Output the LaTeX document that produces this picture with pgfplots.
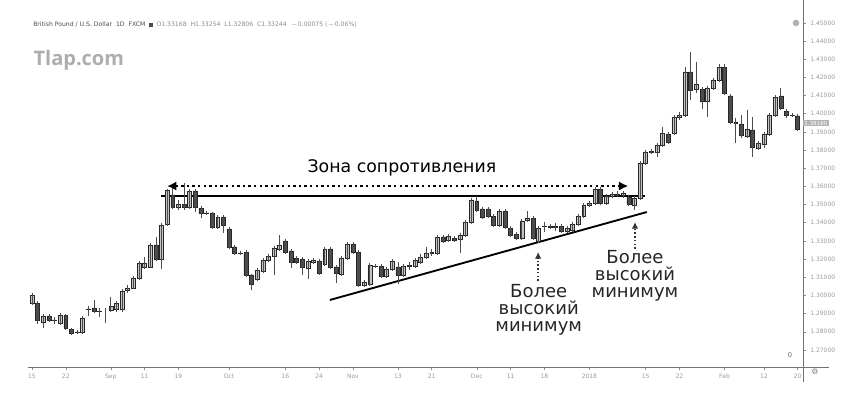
\documentclass[border=0pt]{standalone}
\usepackage{pgfplots}
\pgfplotsset{compat=1.18}
\usepackage{pgfplotstable}
\usepackage{fontspec}
\setmainfont{DejaVu Sans}
\newfontfamily\annot{DejaVu Sans}
\newfontfamily\wm{Open Sans}
\usetikzlibrary{arrows.meta}
\definecolor{upc}{HTML}{C4C4C4}
\definecolor{dnc}{HTML}{4D4D4D}
\definecolor{lbl}{HTML}{9A9A9A}

\pgfplotstableread{
i o h l c
0 1.2958 1.3014 1.2947 1.3003
1 1.2958 1.2969 1.2843 1.2865
2 1.2854 1.2898 1.2821 1.2887
3 1.2887 1.2898 1.2854 1.2865
4 1.2866 1.2881 1.2843 1.2864
5 1.2848 1.2903 1.2837 1.2892
6 1.2892 1.2898 1.2810 1.2821
7 1.2815 1.2821 1.2782 1.2793
8 1.2799 1.2810 1.2788 1.2798
9 1.2799 1.2887 1.2788 1.2876
10 1.2926 1.2942 1.2887 1.2925
11 1.2931 1.2975 1.2903 1.2914
12 1.2914 1.2931 1.2881 1.2915
13 1.2920 1.2931 1.2848 1.2920
14 1.2920 1.2992 1.2909 1.2942
15 1.2926 1.2969 1.2909 1.2958
16 1.2926 1.3036 1.2909 1.3025
17 1.3030 1.3057 1.3014 1.3041
18 1.3041 1.3107 1.3036 1.3096
19 1.3096 1.3190 1.3085 1.3179
20 1.3157 1.3212 1.3146 1.3179
21 1.3157 1.3289 1.3151 1.3278
22 1.3278 1.3322 1.3190 1.3201
23 1.3201 1.3399 1.3146 1.3388
24 1.3393 1.3586 1.3382 1.3580
25 1.3553 1.3591 1.3476 1.3487
26 1.3487 1.3525 1.3470 1.3503
27 1.3503 1.3619 1.3470 1.3487
28 1.3487 1.3586 1.3476 1.3575
29 1.3575 1.3586 1.3459 1.3487
30 1.3481 1.3492 1.3426 1.3454
31 1.3454 1.3465 1.3443 1.3453
32 1.3454 1.3459 1.3366 1.3377
33 1.3377 1.3443 1.3366 1.3432
34 1.3432 1.3443 1.3344 1.3388
35 1.3366 1.3377 1.3256 1.3267
36 1.3267 1.3278 1.3223 1.3234
37 1.3234 1.3245 1.3223 1.3233
38 1.3239 1.3250 1.3102 1.3113
39 1.3113 1.3118 1.3030 1.3063
40 1.3091 1.3151 1.3080 1.3140
41 1.3135 1.3206 1.3124 1.3195
42 1.3195 1.3228 1.3184 1.3217
43 1.3217 1.3272 1.3113 1.3261
44 1.3256 1.3333 1.3245 1.3278
45 1.3300 1.3311 1.3228 1.3239
46 1.3245 1.3256 1.3151 1.3184
47 1.3206 1.3217 1.3173 1.3184
48 1.3201 1.3212 1.3113 1.3157
49 1.3151 1.3201 1.3091 1.3190
50 1.3184 1.3206 1.3173 1.3195
51 1.3190 1.3201 1.3113 1.3124
52 1.3173 1.3267 1.3162 1.3256
53 1.3256 1.3267 1.3146 1.3157
54 1.3157 1.3168 1.3068 1.3124
55 1.3118 1.3217 1.3107 1.3206
56 1.3206 1.3294 1.3195 1.3283
57 1.3283 1.3294 1.3228 1.3239
58 1.3239 1.3250 1.3046 1.3057
59 1.3057 1.3085 1.3046 1.3074
60 1.3063 1.3179 1.3052 1.3168
61 1.3162 1.3173 1.3151 1.3163
62 1.3162 1.3173 1.3096 1.3107
63 1.3107 1.3157 1.3096 1.3146
64 1.3146 1.3201 1.3135 1.3190
65 1.3157 1.3184 1.3063 1.3113
66 1.3113 1.3173 1.3102 1.3162
67 1.3160 1.3184 1.3140 1.3165
68 1.3162 1.3206 1.3151 1.3195
69 1.3184 1.3228 1.3173 1.3212
70 1.3212 1.3267 1.3201 1.3234
71 1.3234 1.3256 1.3217 1.3239
72 1.3234 1.3333 1.3223 1.3322
73 1.3322 1.3333 1.3289 1.3300
74 1.3305 1.3338 1.3294 1.3327
75 1.3316 1.3327 1.3294 1.3305
76 1.3311 1.3344 1.3234 1.3333
77 1.3333 1.3415 1.3322 1.3404
78 1.3404 1.3536 1.3393 1.3525
79 1.3520 1.3547 1.3459 1.3470
80 1.3476 1.3487 1.3421 1.3432
81 1.3476 1.3487 1.3426 1.3437
82 1.3437 1.3448 1.3377 1.3388
83 1.3388 1.3476 1.3377 1.3465
84 1.3465 1.3476 1.3366 1.3377
85 1.3371 1.3382 1.3322 1.3333
86 1.3338 1.3349 1.3305 1.3316
87 1.3316 1.3421 1.3305 1.3410
88 1.3415 1.3465 1.3404 1.3426
89 1.3426 1.3437 1.3305 1.3316
90 1.3300 1.3382 1.3289 1.3371
91 1.3382 1.3404 1.3349 1.3383
92 1.3382 1.3393 1.3366 1.3377
93 1.3377 1.3399 1.3355 1.3378
94 1.3382 1.3393 1.3344 1.3355
95 1.3355 1.3382 1.3344 1.3371
96 1.3360 1.3404 1.3349 1.3393
97 1.3393 1.3448 1.3382 1.3437
98 1.3437 1.3509 1.3426 1.3498
99 1.3498 1.3520 1.3487 1.3509
100 1.3509 1.3597 1.3498 1.3586
101 1.3586 1.3597 1.3498 1.3509
102 1.3509 1.3558 1.3498 1.3547
103 1.3547 1.3569 1.3536 1.3558
104 1.3558 1.3575 1.3542 1.3553
105 1.3553 1.3575 1.3536 1.3564
106 1.3542 1.3553 1.3492 1.3503
107 1.3498 1.3547 1.3470 1.3536
108 1.3536 1.3740 1.3525 1.3729
109 1.3729 1.3800 1.3718 1.3789
110 1.3789 1.3806 1.3778 1.3795
111 1.3789 1.3839 1.3762 1.3828
112 1.3828 1.3927 1.3817 1.3894
113 1.3889 1.3900 1.3834 1.3845
114 1.3894 1.3993 1.3883 1.3982
115 1.3982 1.4010 1.3966 1.3993
116 1.3993 1.4257 1.3982 1.4230
117 1.4230 1.4340 1.4076 1.4131
118 1.4136 1.4285 1.4114 1.4164
119 1.4136 1.4147 1.4026 1.4070
120 1.4070 1.4153 1.3982 1.4142
121 1.4142 1.4197 1.4131 1.4186
122 1.4186 1.4274 1.4175 1.4257
123 1.4257 1.4274 1.4103 1.4114
124 1.4098 1.4109 1.3944 1.3955
125 1.3955 1.3977 1.3839 1.3949
126 1.3944 1.3993 1.3867 1.3883
127 1.3877 1.4021 1.3867 1.3916
128 1.3911 1.3982 1.3762 1.3817
129 1.3811 1.3850 1.3800 1.3839
130 1.3834 1.3900 1.3811 1.3889
131 1.3889 1.4004 1.3877 1.3993
132 1.3993 1.4103 1.3982 1.4092
133 1.4098 1.4142 1.4021 1.4032
134 1.4015 1.4026 1.3977 1.3993
135 1.3993 1.4004 1.3982 1.3992
136 1.3988 1.3999 1.3905 1.3916
}\candles

\begin{document}
\begin{tikzpicture}
\path[use as bounding box] (0,0) rectangle (633pt,304.5pt);
\node[anchor=west, inner sep=0, font=\fontsize{4.6}{5}\selectfont, text=black!70] at (24.75pt,285.75pt)
 {British Pound / U.S. Dollar\ \ 1D\ \ FXCM\ \ \rule{2.5pt}{2.5pt}\ \ \textcolor{black!45}{O1.33168\ \ H1.33254\ \ L1.32806\ \ C1.33244\ \ $-$0.00075 ($-$0.06\%)}};
\node[anchor=west, inner sep=0, font=\wm\bfseries\fontsize{15}{16}\selectfont, text=black!32] at (25pt,259.5pt) {Tlap.com};
\begin{axis}[
  scale only axis, width=581.25pt, height=275.25pt,
  anchor=south west, at={(21pt,29.25pt)},
  xmin=-0.71, xmax=136.94, ymin=1.26062, ymax=1.4626,
  axis x line*=bottom, axis y line*=right,
  axis line style={black!55, line width=0.5pt},
  ybar stacked, bar width=0.7,
  clip mode=individual,
  ytick={1.27,1.28,1.29,1.30,1.31,1.32,1.33,1.34,1.35,1.36,1.37,1.38,1.39,1.40,1.41,1.42,1.43,1.44,1.45},
  /pgf/number format/assume math mode=true,
  yticklabel style={font=\fontsize{4.5}{5}\selectfont, text=lbl, /pgf/number format/fixed, /pgf/number format/fixed zerofill, /pgf/number format/precision=5},
  xtick={0,6,14,20,26,35,45,51,57,65,71,79,85,91,99,109,115,123,130,136},
  xticklabels={15,22,Sep,11,19,Oct,16,24,Nov,13,21,Dec,11,18,2018,15,22,Feb,12,20},
  xticklabel style={font=\fontsize{4.5}{5}\selectfont, text=lbl},
  tick style={black!45, line width=0.4pt},
  major tick length=2pt, tick align=outside,
]
\addplot[draw=none, fill=none,
  error bars/.cd, y dir=both, y explicit, error mark=none,
  error bar style={draw=black!70, line width=0.5pt, solid}]
  table[x=i, y expr={min(\thisrow{o},\thisrow{c})},
        y error plus expr={\thisrow{h}-min(\thisrow{o},\thisrow{c})},
        y error minus expr={min(\thisrow{o},\thisrow{c})-\thisrow{l}}] {\candles};
\addplot[draw=black!85, fill=upc, line width=0.4pt]
  table[x=i, y expr={max(\thisrow{c}-\thisrow{o},0)}] {\candles};
\addplot[draw=black!85, fill=dnc, line width=0.4pt]
  table[x=i, y expr={max(\thisrow{o}-\thisrow{c},0)}] {\candles};

% annotations
\draw[black, line width=1.5pt] (axis cs:22.9,1.3547) -- (axis cs:108.9,1.3547);
\draw[black, line width=1.8pt, dash pattern=on 1.8pt off 2.4pt,
  {Latex[length=7pt,width=7pt]}-{Latex[length=7pt,width=7pt]}]
  (axis cs:24.0,1.3602) -- (axis cs:105.9,1.3602);
\draw[black, line width=1.4pt] (axis cs:52.9,1.2975) -- (axis cs:109.2,1.3459);
\draw[black!80, line width=1.2pt, dash pattern=on 1.2pt off 1.6pt, -{Latex[length=5pt,width=5pt]}]
  (axis cs:89.9,1.3080) -- (axis cs:89.9,1.3239);
\draw[black!80, line width=1.2pt, dash pattern=on 1.2pt off 1.6pt, -{Latex[length=5pt,width=5pt]}]
  (axis cs:107.1,1.3256) -- (axis cs:107.1,1.3404);
\node[font=\annot\fontsize{13}{13}\selectfont, inner sep=0] at (axis cs:65.7,1.3701) {Зона сопротивления};
\node[align=center, anchor=north, inner sep=0, font=\annot\fontsize{13.5}{12.75}\selectfont, text=black!85]
  at (axis cs:90,1.3063) {Более\\высокий\\минимум};
\node[align=center, anchor=north, inner sep=0, font=\annot\fontsize{13.5}{12.75}\selectfont, text=black!85]
  at (axis cs:107.1,1.3250) {Более\\высокий\\минимум};
\node[anchor=west, fill=black!30, text=white, inner sep=0.8pt, font=\fontsize{4.2}{4.5}\selectfont] at (axis cs:136.94,1.3949) {1.39160};
\end{axis}
\draw[black!55, line width=0.5pt] (602.25pt,29.25pt) -- (602.25pt,18pt);
\draw[black!55, line width=0.5pt] (602.25pt,29.25pt) -- (622pt,29.25pt);
\fill[black!30] (597pt,287.25pt) circle (2.5pt);
\node[text=black!50, font=\fontsize{6}{6}\selectfont, inner sep=0] at (611.25pt,25.5pt) {⚙};
\node[text=black!60, font=\fontsize{5}{5}\selectfont, inner sep=0] at (592.5pt,38.25pt) {0};
\end{tikzpicture}
\end{document}
